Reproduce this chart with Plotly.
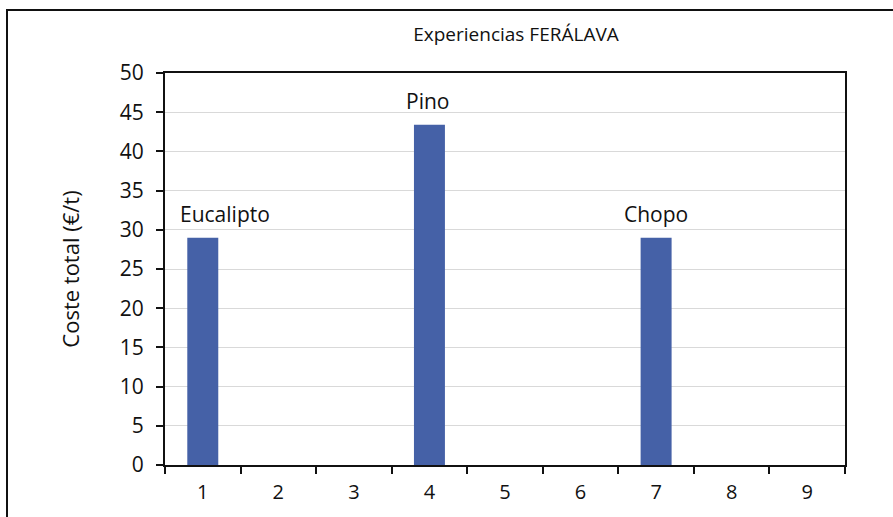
import plotly.graph_objects as go

# Total cost per trial (€/t); only trials 1, 4 and 7 have a value
experiencias = ["1", "2", "3", "4", "5", "6", "7", "8", "9"]
coste_total = [29, 0, 0, 43.4, 0, 0, 29, 0, 0]

# Species labels shown above the bars (category index of each bar)
especies = ["Eucalipto", "Pino", "Chopo"]
especie_idx = [0, 3, 6]
especie_valor = [29, 43.4, 29]
especie_dx = [22, -2, 0]

FONT = "Open Sans"
W, H = 893, 517
L, R, T, B = 165, 48, 73, 52
pw, ph = W - L - R, H - T - B

fig = go.Figure()
fig.add_trace(go.Bar(
    x=experiencias,
    y=coste_total,
    marker=dict(color="#4561a7", line=dict(width=0)),
    width=0.41,
    hoverinfo="x+y",
))

for nombre, idx, val, dx in zip(especies, especie_idx, especie_valor, especie_dx):
    fig.add_annotation(
        x=idx, y=val, text=nombre, showarrow=False,
        xanchor="center", yanchor="bottom", yshift=8, xshift=dx,
        font=dict(family=FONT, size=21, color="#111"),
    )

# Outer frame of the chart (right and bottom edges fall outside the page)
fig.add_shape(
    type="rect", xref="paper", yref="paper",
    x0=(7 - L) / pw, x1=(W + 10 - L) / pw,
    y0=(T + ph - (H + 10)) / ph, y1=(T + ph - 10) / ph,
    line=dict(color="#111", width=2), fillcolor="rgba(0,0,0,0)", layer="below",
)

fig.update_layout(
    width=W, height=H,
    margin=dict(l=L, r=R, t=T, b=B),
    paper_bgcolor="white", plot_bgcolor="white",
    showlegend=False,
    title=dict(
        text="Experiencias FERÁLAVA",
        x=(516 - L) / pw, xref="paper", xanchor="center",
        y=1 - 34 / H, yanchor="middle",
        font=dict(family=FONT, size=19, color="#111"),
    ),
)

fig.update_xaxes(
    type="category", tickson="boundaries",
    ticks="outside", ticklen=7, tickwidth=2, tickcolor="#111",
    showline=True, linecolor="#111", linewidth=2, mirror=True,
    showgrid=False, ticklabelstandoff=8,
    tickfont=dict(family=FONT, size=20, color="#111"),
)
fig.update_yaxes(
    range=[0, 50], dtick=5, tick0=0,
    ticks="outside", ticklen=7, tickwidth=2, tickcolor="#111",
    showline=True, linecolor="#111", linewidth=2, mirror=True,
    showgrid=True, gridcolor="#d9d9d9", gridwidth=1,
    zeroline=False, ticklabelstandoff=8,
    tickfont=dict(family=FONT, size=21, color="#111"),
    title=dict(text="Coste total (€/t)", standoff=34,
               font=dict(family=FONT, size=22, color="#111")),
)

fig.write_html("out.html")
